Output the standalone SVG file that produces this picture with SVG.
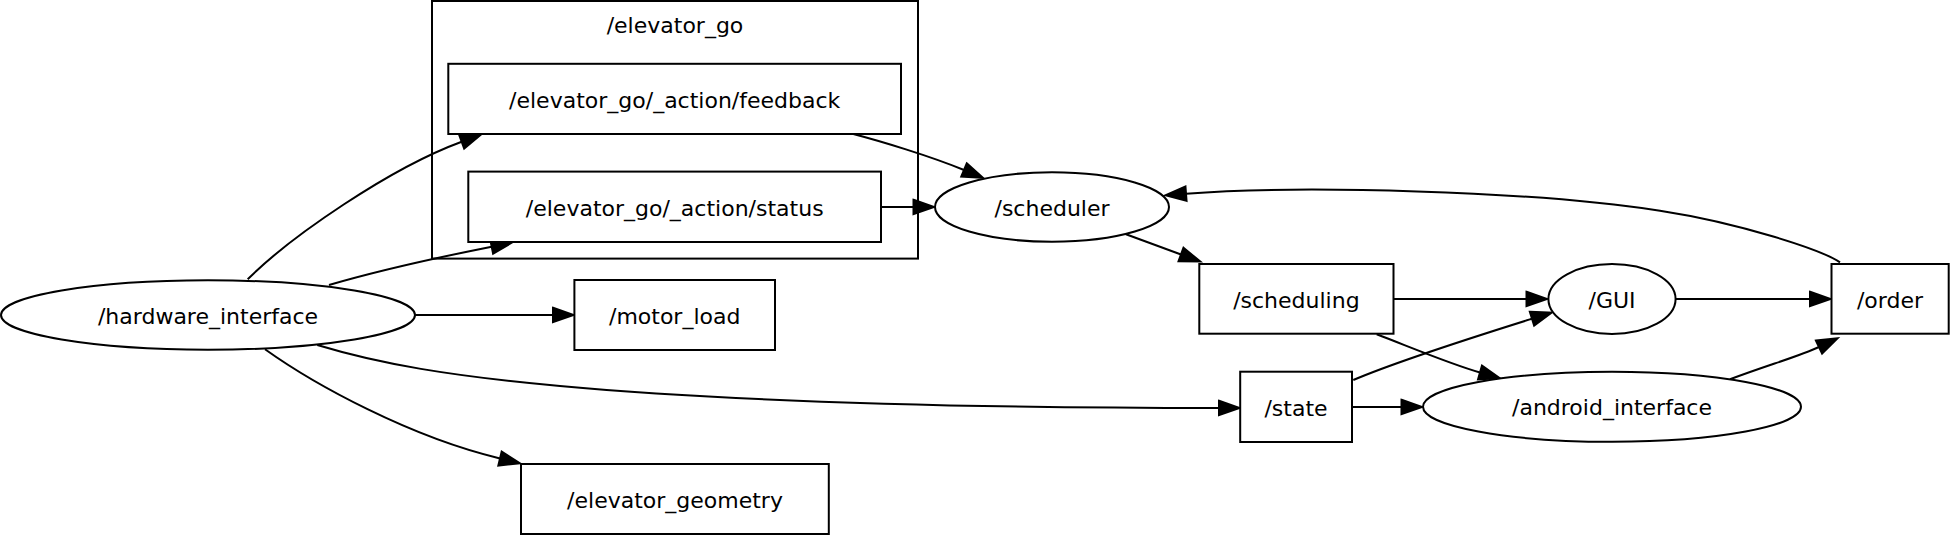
<svg xmlns="http://www.w3.org/2000/svg" width="1950" height="535" viewBox="0 0 1950 535">
<style>
.shape{fill:#fff;stroke:#000;stroke-width:2}
.cluster{fill:none;stroke:#000;stroke-width:2}
.lbl{font-family:"DejaVu Sans","Liberation Sans",sans-serif;font-size:22px;text-anchor:middle;fill:#000}
.edge{fill:none;stroke:#000;stroke-width:2;marker-end:url(#arr)}
</style>
<defs>
<marker id="arr" markerUnits="userSpaceOnUse" markerWidth="24" markerHeight="18" refX="0" refY="8" orient="auto" overflow="visible">
<path d="M0,0.8 L20.5,8 L0,15.2 Z" fill="#000" stroke="#000" stroke-width="2" stroke-linejoin="miter"/>
</marker>
</defs>
<rect width="1950" height="535" fill="#fff"/>
<g id="cluster_elevator_go">
<rect class="cluster" x="432" y="1" width="486" height="257.6"/>
<text class="lbl" x="675" y="33">/elevator_go</text>
</g>
<g id="connectors">
<path class="edge" d="M247.7,279.3 C290,237 390,168 461.7,141.7"/>
<path class="edge" d="M329,285 C370,273 440,257 491.7,246.7"/>
<path class="edge" d="M415,315 L553,315"/>
<path class="edge" d="M317.3,345 C380,364 450,376 560,386 C760,404 1000,408 1219,408"/>
<path class="edge" d="M265,349.3 C315,385 410,437 500,458.5"/>
<path class="edge" d="M853.3,134 C880,141 930,156 964,170"/>
<path class="edge" d="M881,207 L913.5,207"/>
<path class="edge" d="M1126,234.3 L1181,254.5"/>
<path class="edge" d="M1840,262.3 C1822,250 1740,223 1660,210.7 C1530,190.7 1300,185 1186,193.7"/>
<path class="edge" d="M1393.5,299 L1526.5,299"/>
<path class="edge" d="M1376.7,334.3 C1410,347 1450,364 1480,372.5"/>
<path class="edge" d="M1353.3,380 C1400,360 1480,335 1532,318.7"/>
<path class="edge" d="M1352,407 L1401.5,407"/>
<path class="edge" d="M1675.6,299 L1810,299"/>
<path class="edge" d="M1730,379.3 C1768,365 1800,356 1819,347"/>
</g>
<g id="hardware_interface">
<ellipse class="shape" cx="208" cy="315" rx="207" ry="34.7"/>
<text class="lbl" x="208" y="323.5">/hardware_interface</text>
</g>
<g id="elevator_go_action_feedback">
<rect class="shape" x="448.3" y="63.8" width="452.7" height="70.2"/>
<text class="lbl" x="674.7" y="107.8">/elevator_go/_action/feedback</text>
</g>
<g id="elevator_go_action_status">
<rect class="shape" x="468.3" y="171.6" width="412.7" height="70.4"/>
<text class="lbl" x="674.7" y="215.5">/elevator_go/_action/status</text>
</g>
<g id="motor_load">
<rect class="shape" x="574.4" y="280" width="200.6" height="70"/>
<text class="lbl" x="674.7" y="323.5">/motor_load</text>
</g>
<g id="elevator_geometry">
<rect class="shape" x="521" y="464" width="307.8" height="70"/>
<text class="lbl" x="675" y="507.5">/elevator_geometry</text>
</g>
<g id="scheduler">
<ellipse class="shape" cx="1052" cy="207" rx="117" ry="34.7"/>
<text class="lbl" x="1052" y="215.5">/scheduler</text>
</g>
<g id="scheduling">
<rect class="shape" x="1199.3" y="264" width="194.2" height="69.7"/>
<text class="lbl" x="1296.4" y="307.5">/scheduling</text>
</g>
<g id="GUI">
<ellipse class="shape" cx="1612" cy="299" rx="63.6" ry="35"/>
<text class="lbl" x="1612" y="307.5">/GUI</text>
</g>
<g id="order">
<rect class="shape" x="1831.5" y="264" width="117.2" height="69.7"/>
<text class="lbl" x="1890" y="307.5">/order</text>
</g>
<g id="state">
<rect class="shape" x="1240.2" y="371.7" width="111.8" height="70.3"/>
<text class="lbl" x="1296" y="415.5">/state</text>
</g>
<g id="android_interface">
<ellipse class="shape" cx="1612" cy="406.8" rx="189" ry="35"/>
<text class="lbl" x="1612" y="415.3">/android_interface</text>
</g>
</svg>
